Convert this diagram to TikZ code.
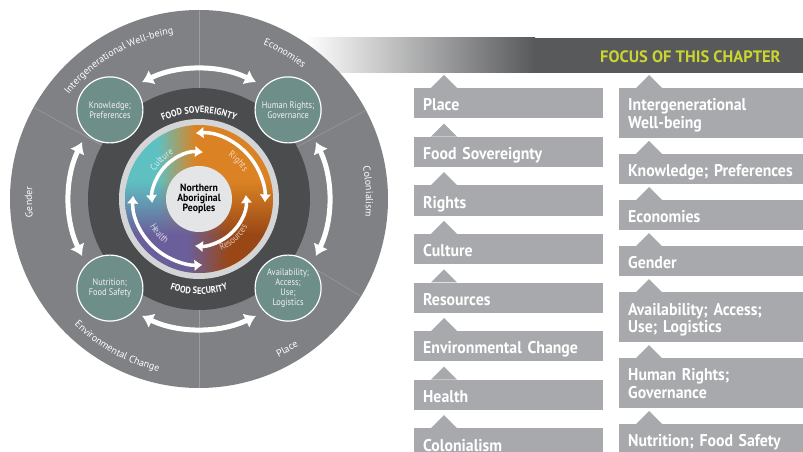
\documentclass[tikz,border=0pt]{standalone}
\usepackage{fontspec}
\setmainfont{PT Sans}
\newfontfamily\boxfont{PT Sans}[FakeStretch=0.93,WordSpace=0.75]
\newfontfamily\wheelfont{PT Sans}[FakeStretch=0.88]
\usetikzlibrary{arrows.meta,positioning,decorations.text,fadings}

\definecolor{ringgray}{HTML}{808184}
\definecolor{ringdark}{HTML}{4B4C4E}
\definecolor{ringlight}{HTML}{76777A}
\definecolor{seamgray}{HTML}{9C9DA0}
\definecolor{rimgray}{HTML}{D4D5D6}
\definecolor{hubgray}{HTML}{E4E5E6}
\definecolor{tealgray}{HTML}{6E8E89}
\definecolor{cteal}{HTML}{5FC0C1}
\definecolor{corange}{HTML}{DB8324}
\definecolor{cbrown}{HTML}{994717}
\definecolor{cpurple}{HTML}{6A5F9B}
\definecolor{boxgray}{HTML}{A7A9AC}
\definecolor{bardark}{HTML}{58595B}
\definecolor{focusgreen}{HTML}{CAD52F}

\newcommand\ringtext{\fontsize{10pt}{10.5pt}\selectfont}
\newcommand\wedgetext{\wheelfont\fontsize{9.5pt}{10pt}\selectfont}
\newcommand\bandtext{\wheelfont\bfseries\fontsize{9.5pt}{10pt}\selectfont}

\pgfdeclareradialshading{ringshade}{\pgfpoint{0bp}{0bp}}{color(0bp)=(ringdark); color(37bp)=(ringdark); color(50bp)=(ringlight)}
\pgfdeclarehorizontalshading{tophalf}{100bp}{color(0bp)=(cteal); color(36bp)=(cteal); color(49bp)=(corange); color(100bp)=(corange)}
\pgfdeclarehorizontalshading{bothalf}{100bp}{color(0bp)=(cpurple); color(46bp)=(cpurple); color(60bp)=(cbrown); color(100bp)=(cbrown)}
\pgfdeclareverticalshading{halffade}{100bp}{color(0bp)=(pgftransparent!0); color(38bp)=(pgftransparent!0); color(56bp)=(pgftransparent!100); color(100bp)=(pgftransparent!100)}
\tikzfading[name=lowfade, shading=halffade]

\tikzset{
  boxnode/.style={fill=boxgray, text=white, anchor=north west, minimum width=189pt,
    text width=171pt, inner xsep=9pt, inner ysep=0pt, align=left,
    text height=22.7pt, text depth=7.5pt,
    font=\boxfont\bfseries\fontsize{17pt}{17.5pt}\selectfont},
  tallbox/.style={boxnode, text depth=27.3pt},
  tealnode/.style={circle, fill=tealgray, draw=white, line width=1.2pt, minimum size=66pt,
    inner sep=0pt, align=center, text=white!90!gray,
    font=\wheelfont\fontsize{9.5pt}{10pt}\selectfont},
  ringarrow/.style={white, line width=5pt, {Latex[length=11pt,width=16pt]}-{Latex[length=11pt,width=16pt]}},
  innerarrow/.style={white, line width=3.5pt, {Latex[length=8pt,width=12pt]}-{Latex[length=8pt,width=12pt]}},
  seamline/.style={seamgray, line width=0.5pt}
}

\begin{document}
\begin{tikzpicture}[x=1pt,y=1pt]
  \useasboundingbox (0,0) rectangle (803,452);

  \shade[left color=white, right color=bardark] (305,379) rectangle (535,414);
  \fill[bardark] (534.5,379) rectangle (803,414);
  \node[anchor=base west, inner sep=0pt, text=focusgreen,
    font=\bfseries\fontsize{16.5pt}{17pt}\selectfont] (focus) at (600,389.7) {FOCUS OF THIS CHAPTER};

  % left column
  \node[boxnode] (place) at (414,364) {Place};
  \node[boxnode, below=18pt of place] (foodsov) {Food Sovereignty};
  \node[boxnode, below=18pt of foodsov] (rights) {Rights};
  \node[boxnode, below=18pt of rights] (culture) {Culture};
  \node[boxnode, below=18pt of culture] (resources) {Resources};
  \node[boxnode, below=18pt of resources] (envchange) {Environmental Change};
  \node[boxnode, below=18pt of envchange] (health) {Health};
  \node[boxnode, below=18pt of health] (colonial) {Colonialism};

  % right column
  \node[tallbox] (wellbeing) at (619,364) {Intergenerational\\Well-being};
  \node[boxnode, below=15.5pt of wellbeing] (knowledge) {Knowledge; Preferences};
  \node[boxnode, below=15.5pt of knowledge] (economies) {Economies};
  \node[boxnode, below=15.5pt of economies] (gender) {Gender};
  \node[tallbox, below=15.5pt of gender] (access) {Availability; Access;\\Use; Logistics};
  \node[tallbox, below=15.5pt of access] (humanrights) {Human Rights;\\Governance};
  \node[boxnode, below=15.5pt of humanrights] (nutrition) {Nutrition; Food Safety};

  \foreach \n in {place,foodsov,rights,culture,resources,envchange,health,colonial,
      wellbeing,knowledge,economies,gender,access,humanrights,nutrition}
    \fill[boxgray] ([xshift=17pt]\n.north west) -- ++(13,13) -- ++(13,-13) -- cycle;

  % the wheel
  \coordinate (hub) at (199,253);
  \begin{scope}[shift={(hub)}]
    \fill[ringgray] (0,0) circle[radius=189pt];
    \foreach \a in {90,151,28,-31,-90}
      \draw[seamline] (\a:111pt) -- (\a:189pt);
    \shade[shading=ringshade] (0,0) circle[radius=111pt];
    \fill[rimgray] (0,0) circle[radius=80pt];
    \shade[shading=tophalf] (0,0) circle[radius=74pt];
    \shade[shading=bothalf, path fading=lowfade] (0,0) circle[radius=74pt];
    \node[circle, fill=hubgray, minimum size=66pt, inner sep=0pt, align=center,
      font=\boxfont\bfseries\fontsize{10.5pt}{10.3pt}\selectfont] (peoples) at (0,0) {Northern\\Aboriginal\\Peoples};

    \draw[innerarrow] (93:66pt) arc[start angle=93, end angle=-3, radius=66pt];
    \draw[innerarrow] (177:66pt) arc[start angle=177, end angle=273, radius=66pt];
    \draw[innerarrow] (85:47pt) arc[start angle=85, end angle=185, radius=47pt];
    \draw[innerarrow] (5:47pt) arc[start angle=5, end angle=-95, radius=47pt];

    \node[tealnode] (knowprefs) at (135:126pt) {Knowledge;\\Preferences};
    \node[tealnode] (rightsgov) at (45:126pt) {Human Rights;\\Governance};
    \node[tealnode] (nutsafety) at (225:126pt) {Nutrition;\\Food Safety};
    \node[tealnode] (availuse) at (-45:126pt) {Availability;\\Access;\\Use;\\Logistics};

    \draw[ringarrow] (116:130pt) arc[start angle=116, end angle=64, radius=130pt];
    \draw[ringarrow] (26:130pt) arc[start angle=26, end angle=-26, radius=130pt];
    \draw[ringarrow] (244:130pt) arc[start angle=244, end angle=296, radius=130pt];
    \draw[ringarrow] (154:130pt) arc[start angle=154, end angle=206, radius=130pt];

    \path[decorate, decoration={text along path, text align=center, text color=white,
      text={|\ringtext|Intergenerational Well-being}}] (170:167pt) arc[start angle=170, end angle=70, radius=167pt];
    \path[decorate, decoration={text along path, text align=center, text color=white,
      text={|\ringtext|Economies}}] (90:167pt) arc[start angle=90, end angle=29, radius=167pt];
    \path[decorate, decoration={text along path, text align=center, text color=white,
      text={|\ringtext|Colonialism}}] (30:167pt) arc[start angle=30, end angle=-25, radius=167pt];
    \path[decorate, decoration={text along path, text align=center, text color=white,
      text={|\ringtext|Gender}}] (210:167pt) arc[start angle=210, end angle=152, radius=167pt];
    \path[decorate, decoration={text along path, text align=center, text color=white,
      text={|\ringtext|Environmental Change}}] (200:177pt) arc[start angle=200, end angle=282, radius=177pt];
    \path[decorate, decoration={text along path, text align=center, text color=white,
      text={|\ringtext|Place}}] (285:177pt) arc[start angle=285, end angle=316, radius=177pt];

    \path[decorate, decoration={text along path, text align=center, text color=white,
      text={|\bandtext|FOOD SOVEREIGNTY}}] (150:86pt) arc[start angle=150, end angle=30, radius=86pt];
    \path[decorate, decoration={text along path, text align=center, text color=white,
      text={|\bandtext|FOOD SECURITY}}] (210:95pt) arc[start angle=210, end angle=330, radius=95pt];

    \path[decorate, decoration={text along path, text align=center, text color=white!75!cteal,
      text={|\wedgetext|Culture}}] (165:52pt) arc[start angle=165, end angle=102, radius=52pt];
    \path[decorate, decoration={text along path, text align=center, text color=white!70!corange,
      text={|\wedgetext|Rights}}] (75:52pt) arc[start angle=75, end angle=12, radius=52pt];
    \path[decorate, decoration={text along path, text align=center, text color=white!70!cbrown,
      text={|\wedgetext|Resources}}] (-88:56pt) arc[start angle=-88, end angle=-8, radius=56pt];
    \path[decorate, decoration={text along path, text align=center, text color=white!75!cpurple,
      text={|\wedgetext|Health}}] (190:56pt) arc[start angle=190, end angle=252, radius=56pt];
  \end{scope}
\end{tikzpicture}
\end{document}
